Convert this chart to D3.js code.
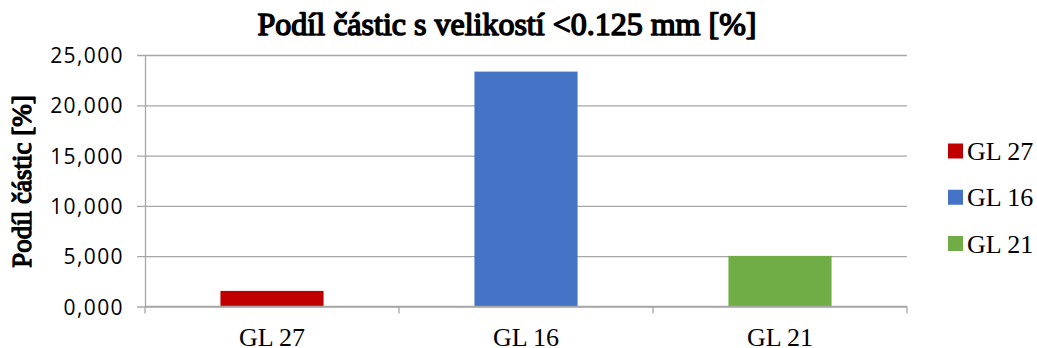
<!DOCTYPE html>
<html>
<head>
<meta charset="utf-8">
<script src="https://cdn.jsdelivr.net/npm/d3@7/dist/d3.min.js"></script>
<style>
  html, body { margin: 0; padding: 0; background: #fff; }
  svg { display: block; }
</style>
</head>
<body>
<svg id="chart" width="1037" height="348"></svg>
<script>
// Share of particles finer than 0.125 mm, per sample
const categories = ["GL 27", "GL 16", "GL 21"];
const values = [1.55, 23.35, 5.03];
const colors = ["#c00000", "#4472c4", "#70ad47"];
const yTicks = [0, 5, 10, 15, 20, 25];

const titleText = "Podíl částic s velikostí <0.125 mm [%]";
const yLabelText = "Podíl částic [%]";

const svg = d3.select("#chart");
const plot = { left: 145, right: 907, top: 55, bottom: 306.5 };
const serif = "'Liberation Serif', 'Times New Roman', serif";

const x = d3.scaleBand()
  .domain(categories)
  .range([plot.left, plot.right])
  .paddingInner(0.594)
  .paddingOuter(0.297);

const xOuter = d3.scaleBand()
  .domain(categories)
  .range([plot.left, plot.right]);

const y = d3.scaleLinear()
  .domain([0, 25])
  .range([plot.bottom, plot.top]);

// tick labels are written with three decimals and a decimal comma, e.g. 25,000
const tickLabel = v => d3.format(".3f")(v).replace(".", ",");

const gridColor = "#a6a6a6";

// horizontal gridlines + left axis
const yAxis = d3.axisLeft(y)
  .tickValues(yTicks)
  .tickSize(-(plot.right - plot.left))
  .tickSizeOuter(0)
  .tickPadding(21)
  .tickFormat(tickLabel);

const gy = svg.append("g")
  .attr("transform", `translate(${plot.left},0)`)
  .call(yAxis);
gy.select(".domain").attr("stroke", gridColor).attr("stroke-width", 1.3);
gy.selectAll(".tick line")
  .attr("stroke", gridColor)
  .attr("stroke-width", 1.3)
  .attr("x1", -8);
gy.selectAll(".tick text")
  .attr("fill", "#000")
  .attr("font-family", "'Open Sans', 'Liberation Sans', sans-serif")
  .attr("font-size", 21)
  .attr("letter-spacing", 1.4)
  .attr("dy", "0.36em");

// bars
svg.append("g")
  .selectAll("rect")
  .data(categories)
  .join("rect")
  .attr("x", d => x(d))
  .attr("width", x.bandwidth())
  .attr("y", (d, i) => y(values[i]))
  .attr("height", (d, i) => y(0) - y(values[i]))
  .attr("fill", (d, i) => colors[i]);

// bottom axis with category boundary ticks
const gx = svg.append("g").attr("transform", `translate(0,${plot.bottom})`);
gx.append("line")
  .attr("x1", plot.left).attr("x2", plot.right)
  .attr("stroke", gridColor).attr("stroke-width", 1.3);
const boundaries = categories.map(c => xOuter(c)).concat([plot.right]);
gx.selectAll("line.tick")
  .data(boundaries)
  .join("line")
  .attr("class", "tick")
  .attr("x1", d => d).attr("x2", d => d)
  .attr("y1", 0).attr("y2", 7)
  .attr("stroke", gridColor).attr("stroke-width", 1.3);
gx.selectAll("text")
  .data(categories)
  .join("text")
  .attr("x", d => xOuter(d) + xOuter.bandwidth() / 2)
  .attr("y", 39.5)
  .attr("text-anchor", "middle")
  .attr("font-family", serif)
  .attr("font-size", 26)
  .text(d => d);

// heavy serif text (stroked regular face for the bold look)
function boldSerif(sel, size, weight) {
  return sel
    .attr("font-family", serif)
    .attr("font-size", size)
    .attr("fill", "#000")
    .attr("stroke", "#000")
    .attr("stroke-width", weight)
    .attr("stroke-linejoin", "round");
}

// title
svg.append("text")
  .attr("x", 507)
  .attr("y", 35)
  .attr("text-anchor", "middle")
  .call(boldSerif, 32, 1.5)
  .text(titleText);

// y-axis title
svg.append("text")
  .attr("transform", "translate(31,181.5) rotate(-90)")
  .attr("text-anchor", "middle")
  .call(boldSerif, 27, 1.3)
  .text(yLabelText);

// legend
const legend = svg.append("g");
const rowY = d3.scalePoint().domain(categories).range([151, 243.5]);
const items = legend.selectAll("g")
  .data(categories)
  .join("g")
  .attr("transform", d => `translate(948,${rowY(d)})`);
items.append("rect")
  .attr("x", 0).attr("y", -7.5)
  .attr("width", 15).attr("height", 15)
  .attr("fill", (d, i) => colors[i]);
items.append("text")
  .attr("x", 19)
  .attr("y", 9)
  .attr("font-family", serif)
  .attr("font-size", 26)
  .text(d => d);
</script>
</body>
</html>
